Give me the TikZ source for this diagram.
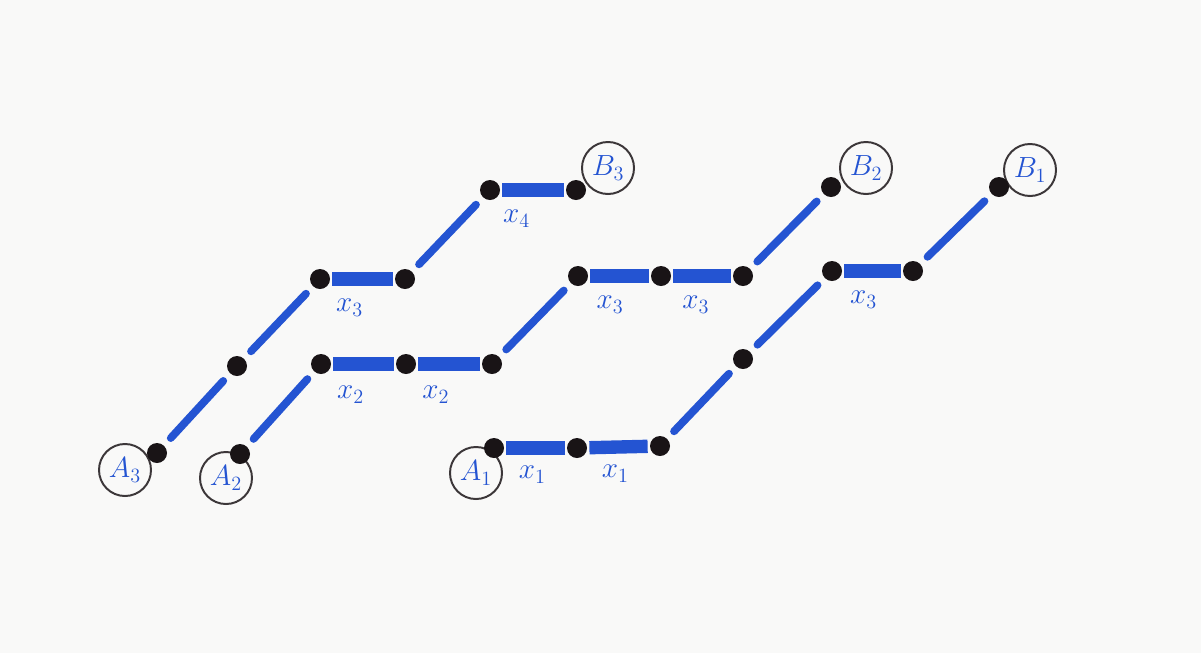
\documentclass[tikz,border=0pt]{standalone}
\usepackage{tikz}
\usetikzlibrary{positioning}
\definecolor{inkblue}{RGB}{36,84,210}
\definecolor{inkdot}{RGB}{25,20,22}
\definecolor{paper}{RGB}{249,249,248}
\tikzset{
    dot/.style={circle, fill=inkdot, inner sep=0pt, minimum size=0.5cm},
    endmark/.style={circle, draw=inkdot!85, line width=1.4pt, inner sep=0pt,
        minimum size=1.3cm, text=inkblue, font=\huge},
    bar/.style={draw=inkblue, line width=9.5pt, shorten >=1.5pt, shorten <=1.5pt},
    rung/.style={draw=inkblue, line width=5.5pt, line cap=round,
        shorten >=0.25cm, shorten <=0.25cm},
    lab/.style={text=inkblue, font=\huge, inner sep=1pt}
}
\begin{document}
\begin{tikzpicture}[x=0.025cm, y=-0.025cm]
        \fill[paper] (0,0) rectangle (1201,653);
        \useasboundingbox (0,0) rectangle (1201,653);

        % end circles
        \node[endmark] (ea3) at (125,470) {$A_3$};
        \node[endmark] (ea2) at (226,478) {$A_2$};
        \node[endmark] (ea1) at (476,473) {$A_1$};
        \node[endmark] (eb3) at (608,168) {$B_3$};
        \node[endmark] (eb2) at (866,168) {$B_2$};
        \node[endmark] (eb1) at (1030,170) {$B_1$};

        % path from A3 to B3
        \node[dot] (a3) at (157,453) {};
        \node[dot] (c3a) at (237,366) {};
        \node[dot] (c3b) at (320,279) {};
        \node[dot] (c3c) at (405,279) {};
        \node[dot] (c3d) at (490,190) {};
        \node[dot] (b3) at (576,190) {};

        \draw[rung] (a3) -- (c3a);
        \draw[rung] (c3a) -- (c3b);
        \draw[bar] (c3b) -- node[lab, below=0.3cm, pos=0.3] {$x_3$} (c3c);
        \draw[rung] (c3c) -- (c3d);
        \draw[bar] (c3d) -- node[lab, below=0.3cm, pos=0.25] {$x_4$} (b3);

        % path from A2 to B2
        \node[dot] (a2) at (240,454) {};
        \node[dot] (c2a) at (321,364) {};
        \node[dot] (c2b) at (406,364) {};
        \node[dot] (c2c) at (492,364) {};
        \node[dot] (c2d) at (578,276) {};
        \node[dot] (c2e) at (661,276) {};
        \node[dot] (c2f) at (743,276) {};
        \node[dot] (b2) at (831,187) {};

        \draw[rung] (a2) -- (c2a);
        \draw[bar] (c2a) -- node[lab, below=0.35cm, pos=0.3] {$x_2$} (c2b);
        \draw[bar] (c2b) -- node[lab, below=0.35cm, pos=0.3] {$x_2$} (c2c);
        \draw[rung] (c2c) -- (c2d);
        \draw[bar] (c2d) -- node[lab, below=0.3cm, pos=0.35] {$x_3$} (c2e);
        \draw[bar] (c2e) -- node[lab, below=0.3cm, pos=0.4] {$x_3$} (c2f);
        \draw[rung] (c2f) -- (b2);

        % path from A1 to B1
        \node[dot] (a1) at (494,448) {};
        \node[dot] (c1a) at (577,448) {};
        \node[dot] (c1b) at (660,446) {};
        \node[dot] (c1c) at (743,359) {};
        \node[dot] (c1d) at (832,271) {};
        \node[dot] (c1e) at (913,271) {};
        \node[dot] (b1) at (999,187) {};

        \draw[bar] (a1) -- node[lab, below=0.25cm, pos=0.45] {$x_1$} (c1a);
        \draw[bar] (c1a) -- node[lab, below=0.25cm, pos=0.45] {$x_1$} (c1b);
        \draw[rung] (c1b) -- (c1c);
        \draw[rung] (c1c) -- (c1d);
        \draw[bar] (c1d) -- node[lab, below=0.3cm, pos=0.35] {$x_3$} (c1e);
        \draw[rung] (c1e) -- (b1);
    \end{tikzpicture}
\end{document}
